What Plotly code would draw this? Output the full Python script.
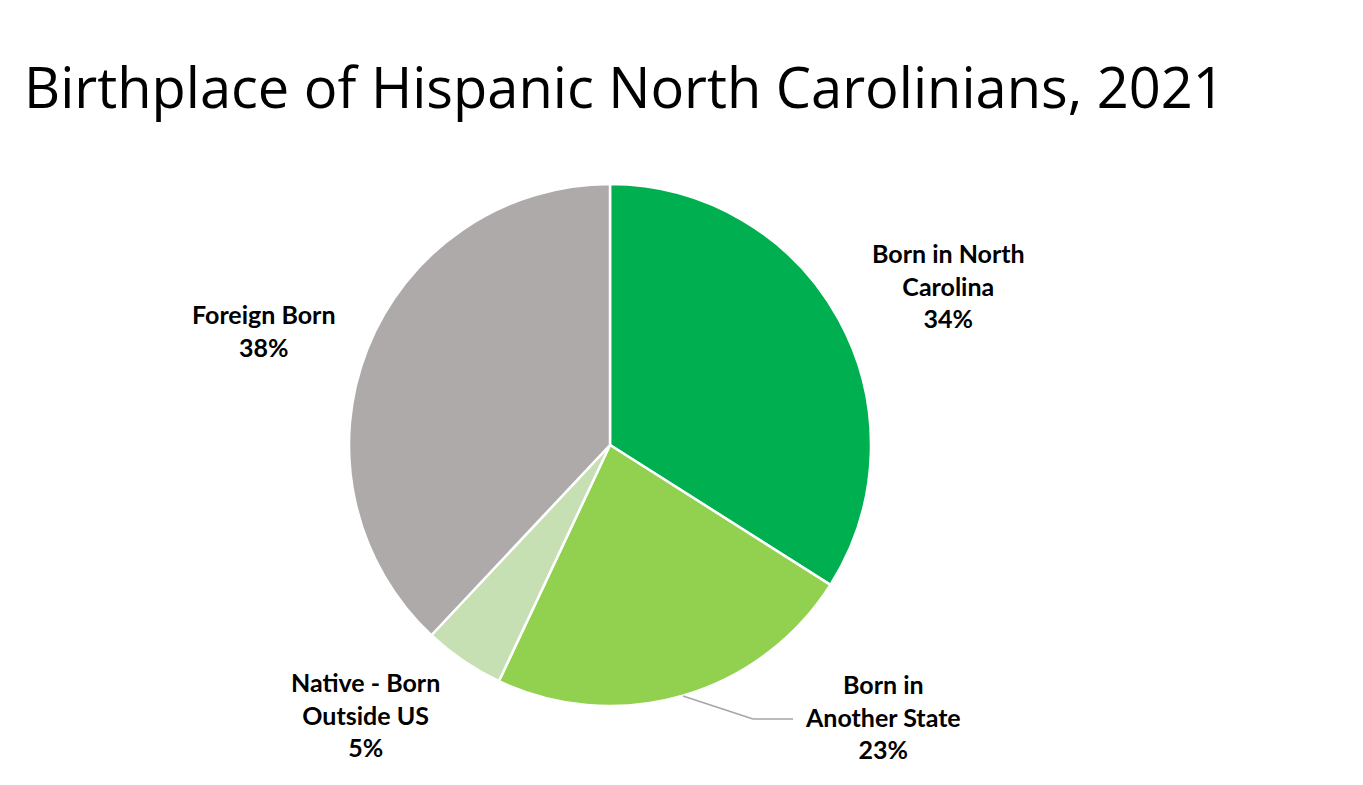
import plotly.graph_objects as go

labels = ["Born in North Carolina", "Born in Another State", "Native - Born Outside US", "Foreign Born"]
values = [34, 23, 5, 38]
colors = ["#00B050", "#92D050", "#C6E0B4", "#AEAAAA"]
label_texts = ["Born in North<br>Carolina<br>34%", "Born in<br>Another State<br>23%",
               "Native - Born<br>Outside US<br>5%", "Foreign Born<br>38%"]
label_pos = [(940, 278), (875, 708), (357, 706), (256, 322)]

W, H = 1363, 785
fig = go.Figure(go.Pie(
    labels=labels, values=values, sort=False, direction="clockwise", rotation=0,
    marker=dict(colors=colors, line=dict(color="white", width=2.5)),
    textinfo="none", hoverinfo="label+percent",
    domain=dict(x=[(602-261)/W, (602+261)/W], y=[1-698/H, 1-176/H]),
    showlegend=False,
))
for t, (x, y) in zip(label_texts, label_pos):
    fig.add_annotation(x=x/W, y=1-y/H, xref="paper", yref="paper", text=t, showarrow=False,
                       xanchor="center", yanchor="middle",
                       font=dict(family="Lato", size=25, color="black", weight="bold"),
                       align="center")
fig.add_shape(type="line", xref="paper", yref="paper",
              x0=675/W, y0=1-688/H, x1=745/W, y1=1-711/H, line=dict(color="#A6A6A6", width=1.5))
fig.add_shape(type="line", xref="paper", yref="paper",
              x0=745/W, y0=1-711/H, x1=785/W, y1=1-711/H, line=dict(color="#A6A6A6", width=1.5))
fig.update_layout(
    width=W, height=H, margin=dict(l=0, r=0, t=0, b=0),
    paper_bgcolor="white", plot_bgcolor="white",
    title=dict(text="Birthplace of Hispanic North Carolinians, 2021", x=16/W, xanchor="left",
               y=1-80/H, yanchor="middle", font=dict(family="Open Sans", size=56, color="black")),
)
fig.write_html("out.html")
